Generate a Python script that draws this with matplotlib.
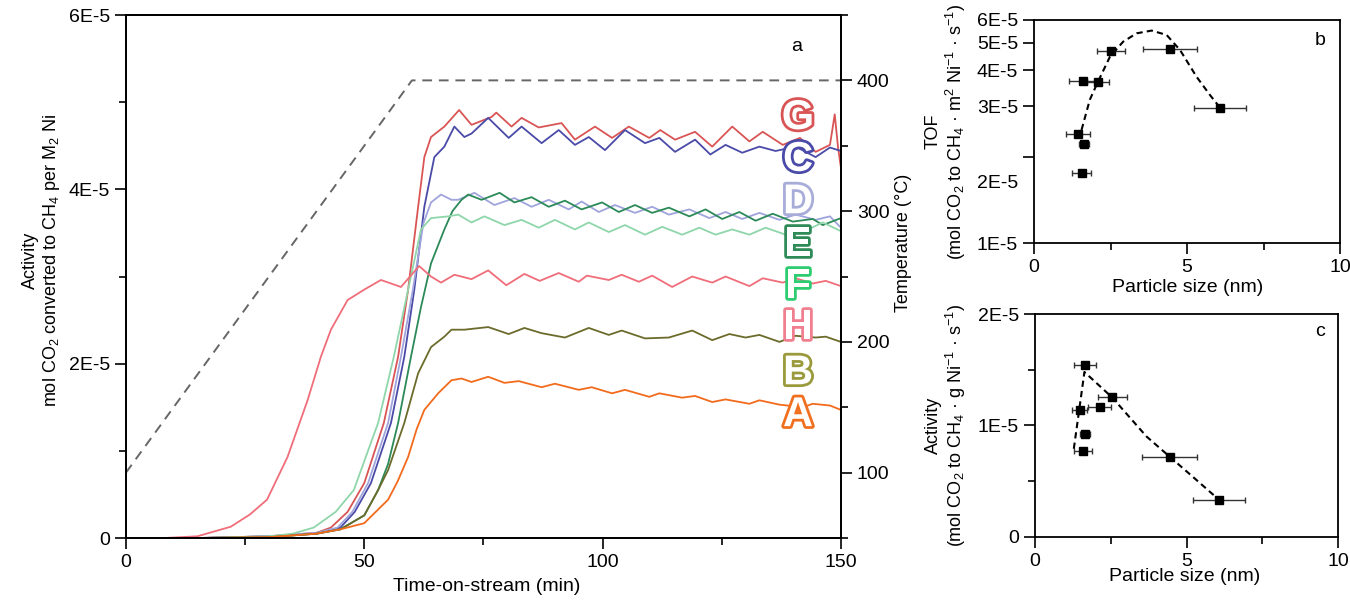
import matplotlib
matplotlib.use('Agg')
import matplotlib.pyplot as plt
import matplotlib.patheffects as pe
import matplotlib.transforms as mtransforms
from matplotlib.ticker import MultipleLocator, NullLocator
import numpy as np

plt.rcParams['font.family'] = ['Liberation Sans', 'DejaVu Sans']
plt.rcParams['mathtext.fontset'] = 'custom'
plt.rcParams['mathtext.rm'] = 'Liberation Sans'
plt.rcParams['mathtext.it'] = 'Liberation Sans:italic'

# panel a: activity (units of 1E-5) vs time-on-stream (min), (t, value)
act_G = [(15, 0), (30, 0.02), (40, 0.06), (43, 0.12), (46.5, 0.3), (50, 0.63), (54.1, 1.32), (57.1, 2.08),
         (59.2, 2.85), (61.3, 3.8), (62.6, 4.37), (64, 4.6), (66.8, 4.72), (69.9, 4.91), (72.5, 4.74),
         (76.7, 4.83), (77.7, 4.88), (80.9, 4.72), (83, 4.82), (86.6, 4.71), (91.4, 4.76), (94.2, 4.57),
         (98.4, 4.72), (102, 4.59), (105.5, 4.72), (109.8, 4.59), (112.1, 4.68), (115.2, 4.57), (119.4, 4.66),
         (123, 4.49), (127.2, 4.72), (130.8, 4.55), (133.6, 4.66), (137.8, 4.51), (141.4, 4.59), (144.7, 4.43),
         (147.7, 4.51), (148.7, 4.86), (149.4, 4.48), (150, 4.25)]
act_C = [(15, 0), (30, 0.02), (40, 0.05), (45, 0.12), (48, 0.3), (51.4, 0.63), (55.6, 1.32), (58.4, 2.08),
         (60.5, 2.85), (62.6, 3.8), (64.7, 4.37), (66.8, 4.49), (68.9, 4.72), (71, 4.6), (72.5, 4.64), (76, 4.82),
         (80.3, 4.59), (83, 4.72), (87.2, 4.53), (90.8, 4.68), (94.2, 4.51), (97.1, 4.6), (100.5, 4.45),
         (104.7, 4.68), (108.9, 4.53), (111.9, 4.59), (115.2, 4.43), (119.4, 4.57), (122.6, 4.4), (125.8, 4.51),
         (129.3, 4.42), (132.9, 4.49), (136.3, 4.44), (140.5, 4.49), (144.7, 4.37), (147.7, 4.48), (150, 4.44)]
act_D = [(16, 0), (30, 0.02), (40, 0.06), (44.4, 0.12), (47.5, 0.3), (50.8, 0.63), (55, 1.32), (57.7, 2.08),
         (60.2, 2.85), (62.4, 3.61), (64, 3.85), (66.1, 3.94), (68.3, 3.88), (69.7, 3.88), (73.1, 3.96),
         (77.3, 3.82), (81.5, 3.9), (85.1, 3.8), (88.7, 3.88), (92.9, 3.77), (95.6, 3.86), (99.2, 3.74),
         (102.6, 3.82), (106.8, 3.73), (110.4, 3.8), (113.9, 3.71), (118.2, 3.77), (122.4, 3.67), (125.8, 3.74),
         (129.3, 3.66), (132.9, 3.73), (137.1, 3.65), (140.5, 3.71), (144.7, 3.65), (147.7, 3.69), (150, 3.56)]
act_E = [(15, 0), (30, 0.01), (40, 0.05), (45, 0.1), (50, 0.26), (52.9, 0.55), (55, 0.85), (57.1, 1.32),
         (59.8, 2.08), (61.9, 2.65), (64, 3.15), (66.8, 3.54), (68.5, 3.75), (70.4, 3.88), (71.8, 3.94),
         (74.6, 3.88), (78.4, 3.96), (81.5, 3.85), (85.1, 3.91), (88.7, 3.8), (92.1, 3.87), (95.6, 3.77),
         (99.9, 3.85), (103.4, 3.74), (106.8, 3.82), (110.4, 3.73), (113.9, 3.79), (118.2, 3.69), (121.6, 3.77),
         (125.1, 3.66), (128.7, 3.74), (132.1, 3.64), (135.7, 3.72), (139.9, 3.63), (144.1, 3.66), (146.2, 3.59),
         (150, 3.67)]
act_F = [(17, 0), (30, 0.02), (35, 0.05), (39.4, 0.12), (44, 0.3), (47.8, 0.55), (52.9, 1.32), (56.2, 2.08),
         (59.2, 2.85), (61.9, 3.54), (64, 3.67), (67.6, 3.69), (69.7, 3.71), (72.5, 3.62), (75.2, 3.69),
         (79.4, 3.59), (83, 3.65), (86.6, 3.56), (90, 3.65), (94.2, 3.54), (97.1, 3.62), (101.3, 3.51),
         (104.7, 3.59), (108.9, 3.48), (112.5, 3.57), (116.7, 3.48), (120.3, 3.56), (123.7, 3.48), (127.2, 3.54),
         (130.8, 3.48), (134.2, 3.56), (138.4, 3.48), (142, 3.51), (146.2, 3.62), (150, 3.52)]
act_H = [(8, 0), (15, 0.02), (22, 0.13), (26, 0.27), (29.6, 0.44), (33.9, 0.93), (38.1, 1.58), (40.9, 2.08),
         (43, 2.39), (46.5, 2.73), (50, 2.85), (53.5, 2.96), (57.7, 2.88), (61.5, 3.12), (64, 3.0), (66.1, 2.93),
         (68.9, 3.02), (72.5, 2.97), (76, 3.07), (79.8, 2.9), (83.6, 3.03), (86.8, 2.95), (90.8, 3.04), (95, 2.94),
         (96.7, 3.01), (101.3, 2.96), (104, 3.02), (107.6, 2.94), (110.4, 3.01), (114.6, 2.88), (118.8, 3.0),
         (123, 2.93), (125.8, 3.0), (130.8, 2.89), (133.6, 2.98), (137.8, 2.93), (140.5, 2.98), (144.1, 2.92),
         (146.8, 2.95), (150, 2.89)]
act_B = [(15, 0), (30, 0.01), (40, 0.05), (45, 0.1), (50, 0.26), (52.9, 0.55), (55, 0.78), (58.4, 1.32),
         (61.3, 1.89), (64, 2.19), (66.8, 2.31), (68.3, 2.39), (71, 2.39), (76, 2.42), (80.3, 2.34), (83.6, 2.41),
         (87.2, 2.35), (92.1, 2.3), (97.1, 2.41), (101.3, 2.33), (104, 2.38), (108.9, 2.29), (113.9, 2.3),
         (118.8, 2.38), (123, 2.27), (126.6, 2.34), (130, 2.3), (132.9, 2.33), (137.1, 2.25), (140.5, 2.32),
         (144.7, 2.3), (146.8, 2.31), (150, 2.25)]
act_A = [(15, 0), (30, 0.01), (40, 0.05), (45, 0.1), (50, 0.17), (55, 0.44), (57, 0.65), (59.2, 0.93), (61, 1.25),
         (62.6, 1.47), (65.5, 1.66), (68.3, 1.81), (70.4, 1.83), (72.5, 1.79), (76, 1.85), (79.4, 1.78), (82.4, 1.8),
         (87.2, 1.73), (90, 1.77), (95, 1.7), (97.7, 1.73), (102, 1.66), (104.7, 1.7), (109.8, 1.62), (111.9, 1.66),
         (116.7, 1.61), (119.4, 1.63), (123, 1.56), (125.8, 1.59), (130.8, 1.54), (132.9, 1.58), (137.1, 1.53),
         (142, 1.5), (144.1, 1.54), (147.7, 1.52), (150, 1.47)]

temp_t = [0, 60, 150]
temp_c = [100, 400, 400]

labels_a = ['G', 'C', 'D', 'E', 'F', 'H', 'B', 'A']

# panel b: TOF (units of 1E-5) vs particle size (nm)
size_b = [4.44, 2.50, 1.60, 2.09, 6.07, 1.44, 1.63, 1.55]
tof_b = [4.74, 4.68, 3.68, 3.66, 2.97, 2.40, 2.22, 1.76]
xerr_b = [0.87, 0.46, 0.45, 0.37, 0.85, 0.40, 0.15, 0.30]
fit_b_x = [1.55, 1.82, 2.09, 2.48, 2.91, 3.35, 3.84, 4.33, 4.77, 5.31, 5.75, 6.07]
fit_b_y = [2.48, 3.16, 3.66, 4.47, 5.04, 5.39, 5.51, 5.32, 4.71, 3.80, 3.28, 2.97]

# panel c: activity per g Ni (units of 1E-5) vs particle size (nm)
size_c = [1.65, 2.55, 2.13, 1.47, 1.65, 1.57, 4.44, 6.08]
act_c = [1.54, 1.255, 1.168, 1.138, 0.923, 0.773, 0.719, 0.33]
xerr_c = [0.35, 0.48, 0.38, 0.25, 0.15, 0.30, 0.90, 0.85]
fit_c_x = [1.28, 1.63, 2.55, 3.68, 4.44, 5.2, 6.08]
fit_c_y = [0.79, 1.48, 1.25, 0.90, 0.72, 0.54, 0.33]

series = [act_G, act_C, act_D, act_E, act_F, act_H, act_B, act_A]
line_colors = ['#d95555', '#4a4aa8', '#a0a4dc', '#2b8a58', '#8fd6aa', '#f06d7a', '#6b6b2b', '#f26b1d']
letter_colors = ['#d95555', '#4a4aa8', '#a7acd9', '#2e8b57', '#2ecc71', '#f07f8f', '#9a9a3c', '#f07020']
letter_y = [0.803, 0.723, 0.642, 0.560, 0.480, 0.402, 0.315, 0.235]

fig = plt.figure(figsize=(13.5, 6), dpi=100)


def style_axis(ax):
    for s in ax.spines.values():
        s.set_linewidth(1.3)
    ax.tick_params(which='both', direction='out', width=1.2, labelsize=14)
    ax.tick_params(which='major', length=8)
    ax.tick_params(which='minor', length=5)


# ---- panel a
ax = fig.add_axes([0.0933, 0.1033, 0.5296, 0.8717])
for pts, col in zip(series, line_colors):
    t, v = np.array(pts).T
    ax.plot(t, v * 1e-5, color=col, lw=1.3)
ax.set_xlim(0, 150)
ax.set_ylim(0, 6e-5)
ax.set_xticks([0, 50, 100, 150])
ax.xaxis.set_minor_locator(MultipleLocator(25))
ax.set_yticks([0, 2e-5, 4e-5, 6e-5], ['0', '2E-5', '4E-5', '6E-5'])
ax.yaxis.set_minor_locator(MultipleLocator(1e-5))
style_axis(ax)
ax.set_xlabel('Time-on-stream (min)', fontsize=14)
ax.xaxis.set_label_coords(0.505, -0.076)
ax.set_ylabel('Activity\nmol CO$_2$ converted to CH$_4$ per M$_2$ Ni', fontsize=13, linespacing=1.1)
ax.yaxis.set_label_coords(-0.0895, 0.53)
ax.text(0.938, 0.939, 'a', transform=ax.transAxes, fontsize=14, ha='center', va='center')

for lab, col, yy in zip(labels_a, letter_colors, letter_y):
    ax.text(0.94, yy, lab, transform=ax.transAxes, fontsize=30, fontweight='bold', color='white',
            ha='center', va='center', zorder=5,
            path_effects=[pe.withStroke(linewidth=4, foreground=col)])

ax2 = ax.twinx()
ax2.plot(temp_t, temp_c, color='#666666', lw=1.4, ls=(0, (5, 3.5)))
ax2.set_ylim(50, 450)
ax2.set_yticks([100, 200, 300, 400])
ax2.yaxis.set_minor_locator(MultipleLocator(50))
style_axis(ax2)
ax2.set_ylabel('Temperature (°C)', fontsize=13)
ax2.yaxis.set_label_coords(1.0755, 0.564)

# ---- panel b
axb = fig.add_axes([0.766, 0.595, 0.2267, 0.3717])
axb.errorbar(size_b, np.array(tof_b) * 1e-5, xerr=xerr_b, fmt='s', color='black', ms=6,
             ecolor='#333333', elinewidth=1, capsize=2)
axb.plot(fit_b_x, np.array(fit_b_y) * 1e-5, color='black', lw=1.5, ls=(0, (3, 2)))
axb.set_yscale('log')
axb.set_ylim(1e-5, 6e-5)
axb.set_yticks([1e-5, 2e-5, 3e-5, 4e-5, 5e-5, 6e-5], ['1E-5', '2E-5', '3E-5', '4E-5', '5E-5', '6E-5'])
axb.yaxis.set_minor_locator(NullLocator())
axb.set_xlim(0, 10)
axb.set_xticks([0, 5, 10])
axb.xaxis.set_minor_locator(MultipleLocator(2.5))
style_axis(axb)
# the 2E-5 label sits below its tick in the original
shift = mtransforms.ScaledTranslation(0, -0.25, fig.dpi_scale_trans)
for lab in axb.get_yticklabels():
    if lab.get_text() == '2E-5':
        lab.set_transform(lab.get_transform() + shift)
axb.set_xlabel('Particle size (nm)', fontsize=14)
axb.xaxis.set_label_coords(0.503, -0.161)
axb.set_ylabel('TOF\n(mol CO$_2$ to CH$_4$ · m$^2$ Ni$^{-1}$ · s$^{-1}$)', fontsize=13, linespacing=1.1)
axb.yaxis.set_label_coords(-0.216, 0.5)
axb.text(0.935, 0.91, 'b', transform=axb.transAxes, fontsize=14, ha='center', va='center')

# ---- panel c
axc = fig.add_axes([0.7667, 0.1055, 0.2244, 0.371])
axc.errorbar(size_c, np.array(act_c) * 1e-5, xerr=xerr_c, fmt='s', color='black', ms=6,
             ecolor='#333333', elinewidth=1, capsize=2)
axc.plot(fit_c_x, np.array(fit_c_y) * 1e-5, color='black', lw=1.5, ls=(0, (3, 2)))
axc.set_ylim(0, 2e-5)
axc.set_yticks([0, 1e-5, 2e-5], ['0', '1E-5', '2E-5'])
axc.yaxis.set_minor_locator(MultipleLocator(0.5e-5))
axc.set_xlim(0, 10)
axc.set_xticks([0, 5, 10])
axc.xaxis.set_minor_locator(MultipleLocator(2.5))
style_axis(axc)
axc.set_xlabel('Particle size (nm)', fontsize=14)
axc.xaxis.set_label_coords(0.495, -0.14)
axc.set_ylabel('Activity\n(mol CO$_2$ to CH$_4$ · g Ni$^{-1}$ · s$^{-1}$)', fontsize=13, linespacing=1.1)
axc.yaxis.set_label_coords(-0.221, 0.5)
axc.text(0.94, 0.92, 'c', transform=axc.transAxes, fontsize=14, ha='center', va='center')

fig.savefig('out.png', dpi=100)
